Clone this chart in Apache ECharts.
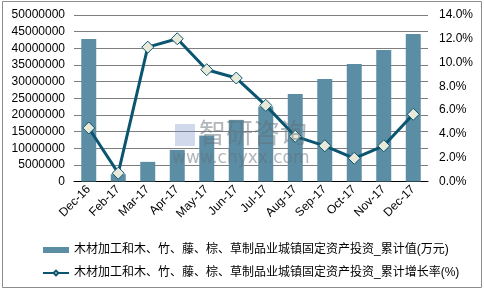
<!DOCTYPE html>
<html><head><meta charset="utf-8">
<script src="https://cdn.jsdelivr.net/npm/echarts@6/dist/echarts.min.js"></script>
<style>html,body{margin:0;padding:0;background:#fff}#c{width:484px;height:291px}</style>
</head><body><div id="c"></div>
<script>
const categories = ['Dec-16','Feb-17','Mar-17','Apr-17','May-17','Jun-17','Jul-17','Aug-17','Sep-17','Oct-17','Nov-17','Dec-17'];
const cumValue = [42800000, 2200000, 5900000, 9500000, 13800000, 18500000, 22500000, 26300000, 30800000, 35300000, 39500000, 44300000];
const cumGrowth = [4.5, 0.7, 11.3, 12.0, 9.4, 8.7, 6.4, 3.8, 3.0, 1.95, 3.0, 5.65];
const leftTicks = [0, 50000000, 5000000];
const rightTicks = [0, 14, 2];
const seriesNames = ['木材加工和木、竹、藤、棕、草制品业城镇固定资产投资_累计值(万元)', '木材加工和木、竹、藤、棕、草制品业城镇固定资产投资_累计增长率(%)'];

const chart = echarts.init(document.getElementById('c'));
const font = 'Arial, "Liberation Sans", "Noto Sans CJK SC", sans-serif';
chart.setOption({
  animation: false,
  textStyle: {fontFamily: font},
  grid: {left: 74, right: 56, top: 15, bottom: 109.5},
  graphic: [
    {type: 'rect', shape: {x: 2.5, y: 1.5, width: 479, height: 286}, style: {fill: 'none', stroke: '#8c8c8c', lineWidth: 1}, z: 0},
    {type: 'text', left: 199, top: 119, style: {text: '智研咨询', fill: 'rgba(100,110,120,0.5)', font: '27px "Noto Sans CJK SC", sans-serif'}, z: 100},
    {type: 'text', left: 172, top: 150, style: {text: 'www.chyxx.com', fill: 'rgba(100,110,120,0.5)', font: '17px "DejaVu Sans", sans-serif'}, z: 100},
    {type: 'rect', shape: {x: 175, y: 124, width: 20, height: 22}, style: {fill: 'rgba(120,150,200,0.35)'}, z: 100}
  ],
  legend: {
    orient: 'vertical', left: 37, top: 239, itemGap: 11, itemWidth: 26, itemHeight: 6,
    textStyle: {fontSize: 12, color: '#000', fontFamily: font},
    data: [
      {name: seriesNames[0], icon: 'rect'},
      {name: seriesNames[1]}
    ]
  },
  xAxis: {
    type: 'category', data: categories, boundaryGap: true,
    axisLine: {lineStyle: {color: '#000', width: 1}},
    axisTick: {show: false},
    axisLabel: {rotate: 45, fontSize: 12, color: '#000', margin: 6, interval: 0}
  },
  yAxis: [
    {type: 'value', min: leftTicks[0], max: leftTicks[1], interval: leftTicks[2],
     axisLine: {show: false}, axisTick: {show: false},
     axisLabel: {fontSize: 12, color: '#000', margin: 9, formatter: v => String(v)},
     splitLine: {lineStyle: {color: '#7f7f7f', width: 1}}},
    {type: 'value', min: rightTicks[0], max: rightTicks[1], interval: rightTicks[2],
     axisLine: {show: false}, axisTick: {show: false},
     axisLabel: {fontSize: 12, color: '#000', margin: 11, formatter: v => v.toFixed(1) + '%'},
     splitLine: {show: false}}
  ],
  series: [
    {name: seriesNames[0], type: 'bar', data: cumValue, barWidth: 15, yAxisIndex: 0,
     itemStyle: {color: '#5b8ea4'}},
    {name: seriesNames[1], type: 'line', data: cumGrowth, yAxisIndex: 1,
     symbol: 'diamond', symbolSize: 12,
     lineStyle: {color: '#0b5570', width: 3},
     itemStyle: {color: '#e9e9da', borderColor: '#0b5570', borderWidth: 1}}
  ]
});
</script></body></html>
